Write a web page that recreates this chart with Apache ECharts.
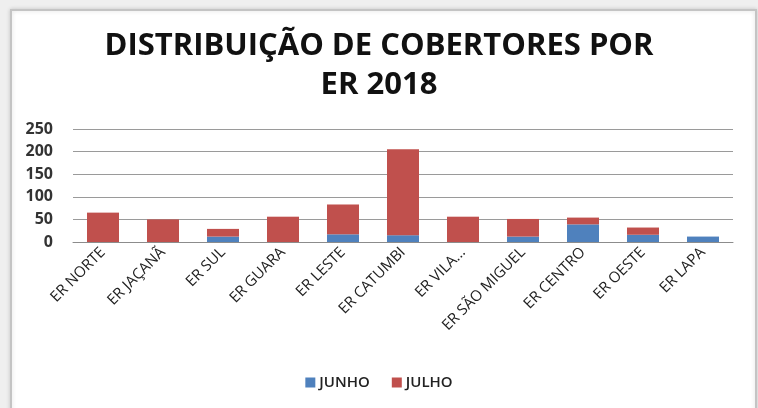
<!DOCTYPE html>
<html>
<head>
<meta charset="utf-8">
<script src="https://cdn.jsdelivr.net/npm/echarts@6/dist/echarts.min.js"></script>
<style>
  html, body { margin: 0; padding: 0; background: #efefef; }
  #chart { width: 758px; height: 408px; }
</style>
</head>
<body>
<div id="chart"></div>
<script>
// Cobertores distribuídos por ER em 2018 (junho e julho)
const categories = ['ER NORTE', 'ER JAÇANÃ', 'ER SUL', 'ER GUARA', 'ER LESTE', 'ER CATUMBI',
  'ER VILA...', 'ER SÃO MIGUEL', 'ER CENTRO', 'ER OESTE', 'ER LAPA'];
const junho = [0, 0, 12, 0, 17, 15, 0, 12, 39, 16, 12];
const julho = [65, 50, 17, 56, 66, 190, 56, 39, 15, 16, 0];
const yTicks = { min: 0, max: 250, interval: 50 };

const chart = echarts.init(document.getElementById('chart'), null, { renderer: 'canvas' });

chart.setOption({
  backgroundColor: '#efefef',
  animation: false,
  graphic: [{
    type: 'rect',
    z: -10,
    shape: { x: 11, y: 10, width: 745, height: 410 },
    style: { fill: '#ffffff', stroke: '#c4c4c4', lineWidth: 2,
      shadowBlur: 4, shadowColor: 'rgba(0,0,0,0.15)' }
  }],
  title: {
    text: 'DISTRIBUIÇÃO DE COBERTORES POR\nER 2018',
    left: 'center',
    top: 22,
    textStyle: {
      fontFamily: 'Open Sans',
      fontWeight: 'bold',
      fontSize: 31,
      lineHeight: 39,
      color: '#111111'
    }
  },
  legend: {
    bottom: 13,
    left: 'center',
    itemWidth: 10,
    itemHeight: 10,
    itemGap: 22,
    icon: 'rect',
    textStyle: { fontFamily: 'Open Sans', fontWeight: 600, fontSize: 15, color: '#222222', padding: [0, 0, 0, -1] },
    data: ['JUNHO', 'JULHO']
  },
  grid: { left: 73, right: 25, top: 129, bottom: 166, containLabel: false },
  xAxis: {
    type: 'category',
    data: categories,
    axisTick: { show: false },
    axisLine: { lineStyle: { color: '#8c8c8c', width: 1 } },
    axisLabel: {
      rotate: 45,
      interval: 0,
      margin: 8,
      fontFamily: 'Open Sans',
      fontSize: 15,
      color: '#222222'
    }
  },
  yAxis: {
    type: 'value',
    min: yTicks.min,
    max: yTicks.max,
    interval: yTicks.interval,
    axisLine: { show: false },
    axisTick: { show: false },
    splitLine: { lineStyle: { color: '#9a9a9a', width: 1 } },
    axisLabel: {
      margin: 20,
      fontFamily: 'Open Sans',
      fontWeight: 'bold',
      fontSize: 16,
      color: '#333333'
    }
  },
  series: [
    {
      name: 'JUNHO', type: 'bar', stack: 'total', data: junho, barWidth: 32,
      itemStyle: { color: '#4f81bd' }
    },
    {
      name: 'JULHO', type: 'bar', stack: 'total', data: julho, barWidth: 32,
      itemStyle: { color: '#c0504d' }
    }
  ]
});
</script>
</body>
</html>
